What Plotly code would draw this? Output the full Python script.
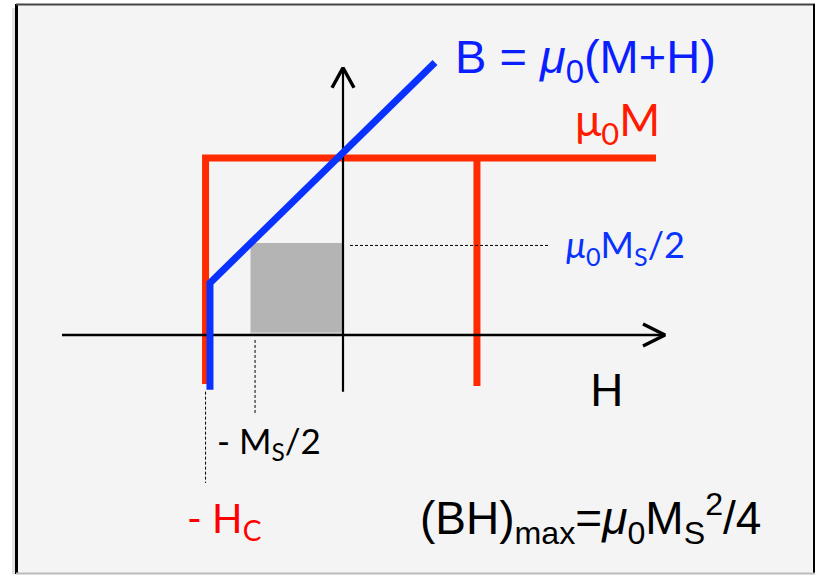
import plotly.graph_objects as go

# ---- diagram values (H in units of Ms, B in units of mu0*Ms) ----
# second-quadrant magnetisation loop mu0*M
m_left_h = [-0.747, -0.747, 1.701]
m_left_b = [-0.277, 1.0, 1.0]
m_right_h = [0.728, 0.728]
m_right_b = [1.0, -0.288]
# flux density B = mu0(M+H)
b_h = [-0.723, -0.723, 0.50]
b_b = [-0.31, 0.294, 1.54]
# (BH)max working-point box: -Ms/2 .. 0, 0 .. mu0*Ms/2
box_h = [-0.50, -0.005]
box_b = [0.015, 0.52]
# axes extents
h_axis = [-1.527, 1.75]
b_axis = [-0.32, 1.51]
# dashed guides
guide_b_h = [0.038, 1.125]
guide_b_level = 0.506
guide_ms_h = -0.478
guide_ms_b = [-0.028, -0.452]
guide_hc_h = -0.747
guide_hc_b = [-0.32, -0.836]

W, HT = 817, 575
SX, SY = 184.0, 177.0      # pixels per unit
OX, OY = 343.0, 335.0      # origin in pixels

RED = "#ff2a00"
BLUE = "#0a32ff"

fig = go.Figure()

def line(xs, ys, color, width, dash=None):
    fig.add_trace(go.Scatter(x=xs, y=ys, mode="lines",
                             line=dict(color=color, width=width, dash=dash),
                             hoverinfo="skip", showlegend=False))

# shaded box with a faint shadow
dx, dy = 2 / SX, 2 / SY
fig.add_shape(type="rect", x0=box_h[0] - dx * 0.5, x1=box_h[1] + dx * 0.5,
              y0=box_b[0] - dy, y1=box_b[1] - dy * 0.5,
              fillcolor="#d4d4d4", line_width=0, layer="below")
fig.add_shape(type="rect", x0=box_h[0], x1=box_h[1], y0=box_b[0], y1=box_b[1],
              fillcolor="#b4b4b4", line_width=0, layer="below")

# magnetisation loop
line(m_left_h, m_left_b, RED, 7)
line(m_right_h, m_right_b, RED, 7)

# axes with open arrowheads
line(h_axis, [0, 0], "black", 2.5)
line([0, 0], b_axis, "black", 2.2)
ax_len, ax_spread = 22 / SX, 11 / SY
line([h_axis[1] - ax_len, h_axis[1], h_axis[1] - ax_len],
     [ax_spread, 0, -ax_spread], "black", 3.5)
ay_len, ay_spread = 20 / SY, 11 / SX
line([-ay_spread, 0, ay_spread],
     [b_axis[1] - ay_len, b_axis[1], b_axis[1] - ay_len], "black", 3.5)

# B line
line(b_h, b_b, BLUE, 7)

# dashed guides
line(guide_b_h, [guide_b_level] * 2, "black", 1, "3px,2px")
line([guide_ms_h] * 2, guide_ms_b, "black", 1, "3px,2px")
line([guide_hc_h] * 2, guide_hc_b, "black", 1, "3px,2px")

# frame
def px(x): return x / W
def py(y): return 1 - y / HT

fig.add_shape(type="rect", xref="paper", yref="paper",
              x0=px(17), x1=px(814), y0=py(573), y1=py(4),
              fillcolor="#f4f4f4", line_width=0, layer="below")
for (x0, y0, x1, y1, c, w) in [
        (16.5, 4, 16.5, 574, "black", 3),
        (16, 4.5, 815, 4.5, "#444444", 2),
        (814, 4, 814, 574, "black", 2),
        (16, 573.5, 815, 573.5, "#bbbbbb", 2),
        (13.5, 8, 13.5, 574, "#e2e2e2", 3)]:
    fig.add_shape(type="line", xref="paper", yref="paper",
                  x0=px(x0), y0=py(y0), x1=px(x1), y1=py(y1),
                  line=dict(color=c, width=w), layer="below")

ARIAL = "Liberation Sans"
CAL = "Lato"

def label(x, y, text, size, color, family, anchor="left"):
    fig.add_annotation(xref="paper", yref="paper", x=px(x), y=py(y),
                       text=text, showarrow=False, xanchor=anchor,
                       yanchor="middle",
                       font=dict(size=size, color=color, family=family))

label(453, 60, "B = <i>μ</i><sub>0</sub>(M+H)", 47, "#0a1eff", ARIAL)
label(573, 122, "μ<sub>0</sub>M", 44, "#ff1a00", CAL)
label(564, 247, "<i>μ</i><sub>0</sub>M<sub>S</sub>/2", 36, BLUE, CAL)
label(588, 389, "H", 44, "black", CAL)
label(215, 442, "- M<sub>S</sub>/2", 35, "black", CAL)
label(185, 520, "- H<sub>C</sub>", 40, "#ff0000", CAL)
label(418, 518, "(BH)<sub>max</sub>=<i>μ</i><sub>0</sub>M<sub>S</sub><sup>2</sup>/4",
      46, "black", ARIAL)

fig.update_layout(
    width=W, height=HT, autosize=False,
    margin=dict(l=0, r=0, t=0, b=0),
    paper_bgcolor="white", plot_bgcolor="rgba(0,0,0,0)",
    xaxis=dict(range=[-OX / SX, (W - OX) / SX], visible=False, fixedrange=True),
    yaxis=dict(range=[(OY - HT) / SY, OY / SY], visible=False, fixedrange=True),
)

fig.write_html("out.html", config={"displayModeBar": False})
